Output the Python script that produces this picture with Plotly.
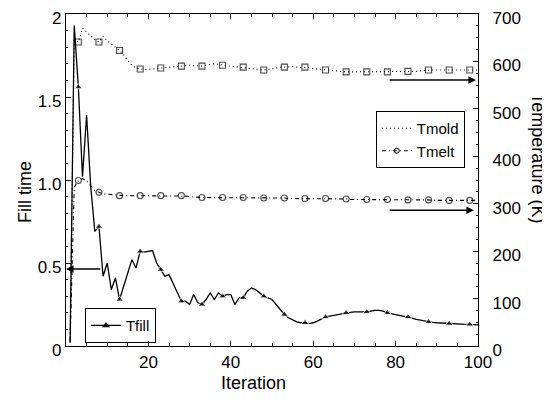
import plotly.graph_objects as go

iterations = list(range(1, 101))

tfill = [0.02, 1.93, 1.56, 1.02, 1.39, 0.96, 0.69, 0.72, 0.42, 0.50,
         0.34, 0.41, 0.28, 0.36, 0.44, 0.52, 0.47, 0.57, 0.565, 0.57,
         0.575, 0.50, 0.46, 0.42, 0.43, 0.38, 0.33, 0.27, 0.27, 0.25,
         0.31, 0.26, 0.25, 0.28, 0.32, 0.28, 0.32, 0.30, 0.31, 0.31,
         0.25, 0.29, 0.29, 0.33, 0.35, 0.34, 0.32, 0.30, 0.29, 0.28,
         0.25, 0.22, 0.19, 0.17, 0.155, 0.145, 0.14, 0.14, 0.135, 0.14,
         0.15, 0.165, 0.175, 0.18, 0.185, 0.19, 0.195, 0.20, 0.203, 0.205,
         0.205, 0.205, 0.205, 0.21, 0.215, 0.215, 0.21, 0.20, 0.195, 0.19,
         0.185, 0.18, 0.175, 0.168, 0.16, 0.155, 0.15, 0.145, 0.142, 0.14,
         0.138, 0.136, 0.135, 0.133, 0.132, 0.131, 0.13, 0.13, 0.128, 0.127]

tmold = [10, 650, 641, 670, 662, 653, 646, 641, 653, 644,
         636, 630, 623, 614, 602, 592, 586, 584, 583, 583,
         584, 585, 586, 587, 588, 589, 590, 590, 591, 592,
         591, 590, 590, 592, 594, 595, 594, 592, 591, 590,
         589, 588, 588, 587, 586, 584, 583, 582, 583, 585,
         587, 588, 588, 589, 589, 588, 588, 588, 587, 585,
         584, 583, 582, 581, 580, 579, 578, 578, 578, 578,
         578, 578, 578, 578, 578, 578, 578, 578, 578, 578,
         578, 579, 579, 579, 579, 580, 581, 582, 582, 582,
         582, 582, 582, 582, 582, 582, 582, 582, 582, 582]

tmelt = [10, 335, 349, 353, 348, 338, 328, 324, 321, 320,
         319, 318, 317, 317, 317, 317, 317, 317, 317, 317,
         317, 317, 317, 317, 317, 317, 317, 317, 316, 315,
         314, 314, 313, 313, 313, 313, 313, 313, 313, 313,
         313, 313, 313, 312, 312, 312, 312, 312, 312, 312,
         312, 312, 312, 311, 311, 311, 311, 311, 311, 311,
         311, 311, 311, 310, 310, 310, 310, 310, 309, 309,
         309, 309, 309, 309, 309, 309, 309, 309, 308, 308,
         308, 308, 308, 308, 308, 308, 308, 308, 307, 307,
         307, 307, 307, 307, 307, 307, 307, 307, 307, 307]

left_ticks = [0, 0.5, 1.0, 1.5, 2]
left_ticktext = ["0", "0.5", "1.0", "1.5", "2"]
x_ticks = [20, 40, 60, 80, 100]
right_ticks = [0, 100, 200, 300, 400, 500, 600, 700]

FONT = "Liberation Sans, Arial, sans-serif"
marked = [i % 5 == 3 for i in iterations]
sq_size = [6 if m else 0 for m in marked]
tri_size = [7 if m else 0 for m in marked]

MOLD_DASH = "1px,3px"
MELT_DASH = "4px,3px,1px,3px"

fig = go.Figure()
fig.add_trace(go.Scatter(
    x=iterations, y=tmold, name="Tmold", yaxis="y2", mode="lines+markers", showlegend=False,
    line=dict(color="black", width=1.1, dash=MOLD_DASH),
    marker=dict(symbol="square-open", size=sq_size, color="black", line=dict(width=1.1))))
fig.add_trace(go.Scatter(
    x=iterations, y=tmelt, name="Tmelt", yaxis="y2", mode="lines+markers", showlegend=False,
    line=dict(color="black", width=1.1, dash=MELT_DASH),
    marker=dict(symbol="circle-open", size=sq_size, color="black", line=dict(width=1.1))))
fig.add_trace(go.Scatter(
    x=iterations, y=tfill, name="Tfill", yaxis="y", mode="lines+markers", showlegend=False,
    line=dict(color="black", width=1.3),
    marker=dict(symbol="triangle-up", size=tri_size, color="black")))

# legend entries (no marks drawn in the plot area)
fig.add_trace(go.Scatter(x=[None], y=[None], name="Tmold", mode="lines", yaxis="y2",
                         line=dict(color="black", width=1.1, dash=MOLD_DASH), legend="legend"))
fig.add_trace(go.Scatter(x=[None], y=[None], name="Tmelt", mode="lines+markers", yaxis="y2",
                         line=dict(color="black", width=1.1, dash=MELT_DASH),
                         marker=dict(symbol="circle-open", size=5, color="black", line=dict(width=1)),
                         legend="legend"))
fig.add_trace(go.Scatter(x=[None], y=[None], name="Tfill", mode="lines+markers",
                         line=dict(color="black", width=1.3),
                         marker=dict(symbol="triangle-up", size=7, color="black"),
                         legend="legend2"))

axis_common = dict(showline=True, linecolor="black", linewidth=1.2, ticks="inside",
                   tickcolor="black", showgrid=False, zeroline=False, automargin=False,
                   ticklabeloverflow="allow",
                   tickfont=dict(family=FONT, size=17, color="black"))

# the page body offsets the figure by 8px; size and margins compensate for it
fig.update_layout(
    width=542, height=392,
    margin=dict(l=58, r=72, t=6, b=54),
    paper_bgcolor="white", plot_bgcolor="white",
    font=dict(family=FONT, color="black"),
    xaxis=dict(range=[0, 100], tickvals=x_ticks, ticklen=5, mirror="ticks",
               minor=dict(dtick=5, ticks="inside", ticklen=3, tickcolor="black"),
               **axis_common),
    yaxis=dict(range=[0, 2], tickvals=left_ticks, ticktext=left_ticktext, ticklen=5,
               ticklabelshift=4,
               minor=dict(dtick=0.1, ticks="inside", ticklen=2, tickcolor="black"),
               **axis_common),
    yaxis2=dict(range=[0, 700], tickvals=right_ticks, ticklen=5, overlaying="y", side="right",
                ticklabelshift=4, ticklabelstandoff=10,
                minor=dict(dtick=25, ticks="inside", ticklen=2, tickcolor="black"),
                **axis_common),
    legend=dict(x=0.752, y=0.708, xanchor="left", yanchor="top",
                bordercolor="black", borderwidth=1, bgcolor="rgba(0,0,0,0)",
                font=dict(family=FONT, size=15, color="black"),
                tracegroupgap=0, itemwidth=30),
    legend2=dict(x=0.046, y=0.114, xanchor="left", yanchor="top",
                 bordercolor="black", borderwidth=1, bgcolor="rgba(0,0,0,0)",
                 font=dict(family=FONT, size=15, color="black"), itemwidth=30),
    showlegend=True,
)

title_font = dict(family=FONT, size=18, color="black")
fig.add_annotation(xref="paper", yref="paper", x=0.456, y=-0.111, text="Iteration",
                   xanchor="center", yanchor="middle", showarrow=False, font=title_font)
fig.add_annotation(xref="paper", yref="paper", x=-0.0995, y=0.464, text="Fill time",
                   xanchor="center", yanchor="middle",
                   textangle=-90, showarrow=False, font=title_font)
fig.add_annotation(xref="paper", yref="paper", x=1.145, y=0.566, text="Temperature (K)",
                   xanchor="center", yanchor="middle",
                   textangle=90, showarrow=False, font=title_font)

# arrows pointing to the corresponding axes
fig.add_annotation(xref="x", yref="y", axref="x", ayref="y", x=0, y=0.464, ax=8.7, ay=0.464,
                   text="", showarrow=True, arrowhead=2, arrowsize=1, arrowwidth=1.5,
                   arrowcolor="black")
fig.add_annotation(xref="x", yref="y2", axref="x", ayref="y2", x=99.5, y=561, ax=78.2, ay=561,
                   text="", showarrow=True, arrowhead=2, arrowsize=1, arrowwidth=1.5,
                   arrowcolor="black")
fig.add_annotation(xref="x", yref="y2", axref="x", ayref="y2", x=99, y=286, ax=78.2, ay=286,
                   text="", showarrow=True, arrowhead=2, arrowsize=1, arrowwidth=1.5,
                   arrowcolor="black")

fig.write_html("out.html")
